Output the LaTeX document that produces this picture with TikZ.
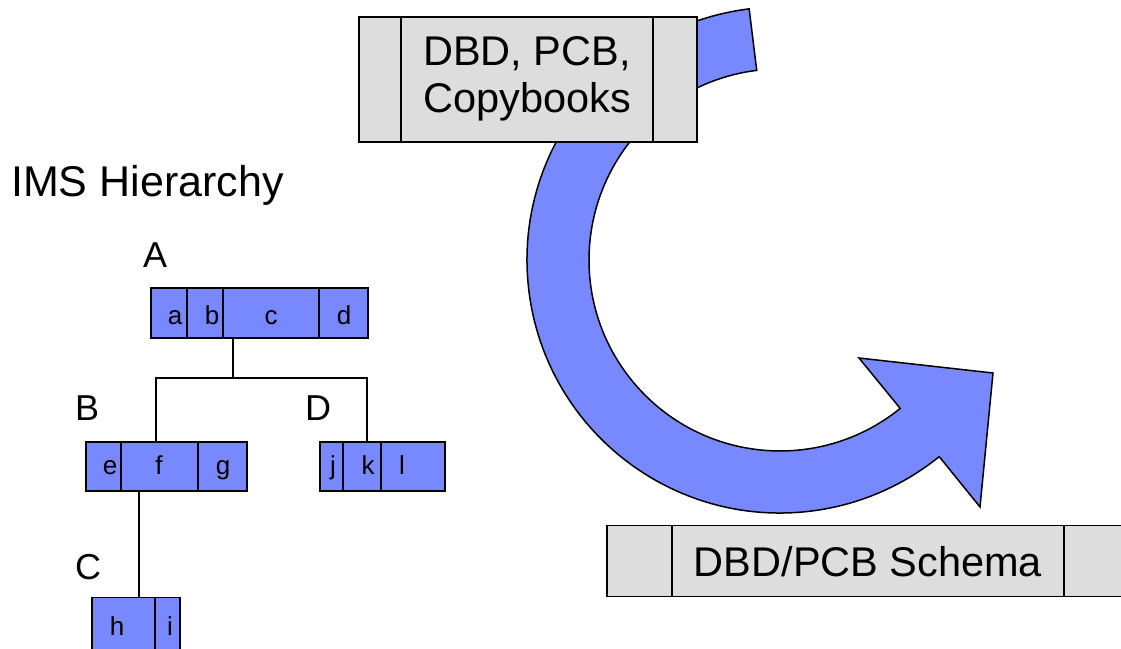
\documentclass[tikz,border=0pt]{standalone}
\usepackage{fontspec}
\setmainfont{Liberation Sans}
\definecolor{imsblue}{RGB}{120,137,255}
\definecolor{boxgray}{RGB}{221,221,221}
\tikzset{
  rec/.style={draw=black, line width=1.5pt, fill=imsblue, inner sep=0pt, anchor=south west},
  grec/.style={draw=black, line width=1.5pt, fill=boxgray, inner sep=0pt, anchor=south west},
  divline/.style={draw=black, line width=1.5pt},
  conn/.style={draw=black, line width=1.5pt},
  cellt/.style={inner sep=0pt, anchor=base, font=\fontsize{26}{30}\selectfont},
  segt/.style={inner sep=0pt, anchor=base west, font=\fontsize{36}{40}\selectfont},
  bigt/.style={inner sep=0pt, font=\fontsize{41.5}{47}\selectfont, align=center},
  bigarrow/.style={draw=black, line width=1.5pt, fill=imsblue, line join=miter}
}
\begin{document}
\begin{tikzpicture}[x=1pt,y=1pt]
\useasboundingbox (0,0) rectangle (1121,648);
\clip (0,0) rectangle (1121,648);

% big curved arrow
\draw[bigarrow] (780,388) ++(97:253pt)
  arc[start angle=97, end angle=309, radius=253pt]
  -- (980,141) -- (993,275) -- (859,290) -- (900.2,239.6)
  arc[start angle=309, end angle=97, radius=191pt] -- cycle;

% source box
\node[grec, minimum width=338pt, minimum height=125pt] (src) at (358,505) {};
\draw[divline] (src.south west) ++(43,0) -- ++(0,125);
\draw[divline] (src.south west) ++(295,0) -- ++(0,125);
\node[bigt] (srct) at (527,569.5) {DBD, PCB,\\Copybooks};

% target box
\node[grec, minimum width=534pt, minimum height=71pt] (dst) at (606,51) {};
\draw[divline] (dst.south west) ++(66,0) -- ++(0,71);
\draw[divline] (dst.south west) ++(458,0) -- ++(0,71);
\node[bigt] (dstt) at (868,86.5) {DBD/PCB Schema};

% title
\node[inner sep=0pt, anchor=base west, font=\fontsize{43}{47}\selectfont] (title) at (11,451) {IMS Hierarchy};

% segment labels
\node[segt] (lA) at (143,380) {A};
\node[segt] (lB) at (75,227) {B};
\node[segt] (lD) at (305,227) {D};
\node[segt] (lC) at (75,69) {C};

% segment A
\node[rec, minimum width=217pt, minimum height=50pt] (recA) at (150,309) {};
\draw[divline] (recA.south west) ++(37,0) -- ++(0,50);
\draw[divline] (recA.south west) ++(73,0) -- ++(0,50);
\draw[divline] (recA.south west) ++(169,0) -- ++(0,50);
\node[cellt] (ca) at (175,323) {a};
\node[cellt] (cb) at (212,323) {b};
\node[cellt] (cc) at (271,323) {c};
\node[cellt] (cd) at (344,323) {d};

% segment B
\node[rec, minimum width=161pt, minimum height=49pt] (recB) at (85,156) {};
\draw[divline] (recB.south west) ++(36,0) -- ++(0,49);
\draw[divline] (recB.south west) ++(113,0) -- ++(0,49);
\node[cellt] (ce) at (110,173) {e};
\node[cellt] (cf) at (159,173) {f};
\node[cellt] (cg) at (223,173) {g};

% segment D
\node[rec, minimum width=125pt, minimum height=49pt] (recD) at (319,156) {};
\draw[divline] (recD.south west) ++(24,0) -- ++(0,49);
\draw[divline] (recD.south west) ++(62,0) -- ++(0,49);
\node[cellt] (cj) at (333,173) {j};
\node[cellt] (ck) at (368,173) {k};
\node[cellt] (cl) at (402,173) {l};

% segment C
\node[rec, minimum width=88pt, minimum height=70pt] (recC) at (91,-20) {};
\draw[divline] (recC.south west) ++(64,0) -- ++(0,70);
\node[cellt] (ch) at (117,13) {h};
\node[cellt] (ci) at (170,13) {i};

% connectors
\coordinate (jA) at (233,270);
\coordinate (jB) at (156,0);
\coordinate (jD) at (367,0);
\coordinate (jC) at (139,0);
\draw[conn] (recA.south -| jA) -- (jA) -| (recB.north -| jB);
\draw[conn] (jA) -| (recD.north -| jD);
\draw[conn] (recB.south -| jC) -- (recC.north -| jC);
\end{tikzpicture}
\end{document}
